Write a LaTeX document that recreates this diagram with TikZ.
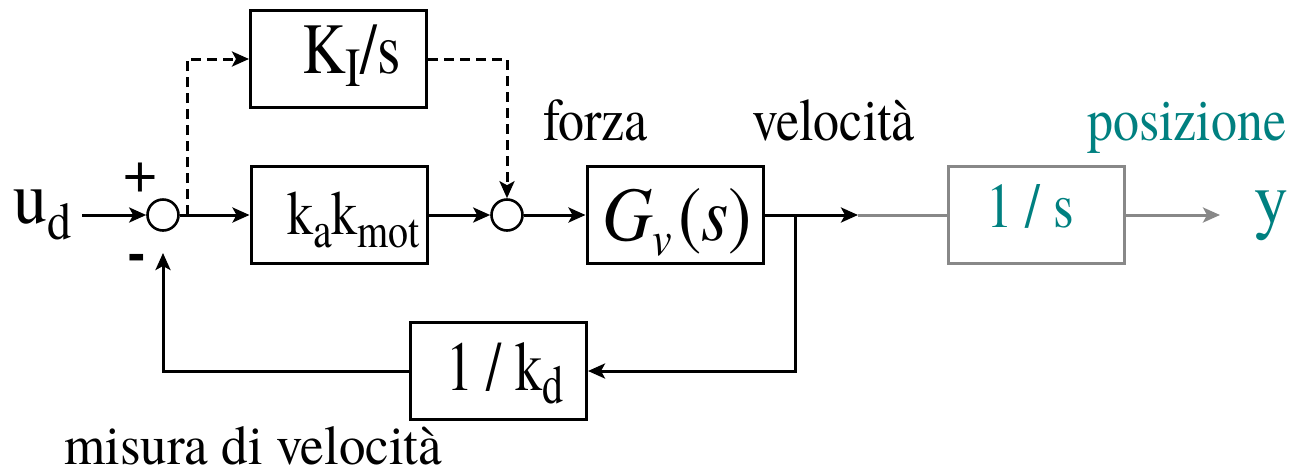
\documentclass[tikz,border=0pt]{standalone}
\usepackage{fontspec}
\usepackage{graphicx}
\setmainfont{texgyretermes}[Extension=.otf, UprightFont=*-regular, ItalicFont=*-italic, BoldFont=*-bold, BoldItalicFont=*-bolditalic]
\usetikzlibrary{arrows.meta}
\definecolor{tealc}{RGB}{0,128,128}
\definecolor{grayc}{RGB}{136,136,136}
\newcommand\fs[2]{{\fontsize{#1pt}{#1pt}\selectfont #2}}
\newcommand\lowsub[3]{\raisebox{-#2pt}{\fontsize{#1pt}{#1pt}\selectfont #3}}
\newcommand\ys[2]{\scalebox{1}[#1]{#2}}
\begin{document}
\begin{tikzpicture}[x=1pt,y=-1pt,
  blk/.style={draw, line width=3pt, minimum width=176pt, minimum height=97pt, inner sep=0pt},
  sumc/.style={draw, circle, line width=2.6pt, minimum size=31pt, inner sep=0pt},
  wire/.style={line width=3pt},
  tip/.style={-{Stealth[length=17pt,width=15pt,inset=4pt]}},
  arr/.style={wire, tip},
  dashw/.style={line width=3pt, dash pattern=on 10pt off 6pt, tip},
  txt/.style={inner sep=0pt, anchor=base west},
]
\useasboundingbox (0,0) rectangle (1293,475);
% blocks
\node[blk] (ki) at (338.5,59) {};
\node[blk] (kk) at (339,215) {};
\node[blk] (gv) at (675,215) {};
\node[blk, draw=grayc] (int) at (1036,215) {};
\node[blk] (fb) at (498.5,371) {};
\node[sumc] (s1) at (163,215) {};
\node[sumc] (s2) at (507,215) {};
% texts
\node[txt] (tki) at (302,73) {\ys{1.2}{\fs{60}{K}\lowsub{46}{11}{I}\fs{60}{/s}}};
\node[txt] (tkk) at (287,234) {\ys{1.2}{\fs{52}{k}\lowsub{42}{11}{a}\fs{52}{k}\lowsub{40}{11}{mot}}};
\node[txt] (tfb) at (446,390) {\ys{1.3}{\fs{54}{1 / k}\lowsub{42}{10}{d}}};
\node[txt] (tgv) at (602,240) {\ys{1.1}{\fs{70}{\itshape G}\lowsub{44}{14}{\itshape v}\hspace{6pt}\fs{70}{(\textit{s})}}};
\node[txt, text=tealc] (tint) at (986,227) {\ys{1.2}{\fs{53}{1 / s}}};
\node[txt, text=tealc] (ty) at (1254,224) {\ys{1.1}{\fs{68}{y}}};
\node[txt] (tud) at (13,223) {\ys{1.1}{\fs{68}{u}\lowsub{48}{15}{d}}};
\node[txt] (tforza) at (543,140) {\ys{1.15}{\fs{52}{forza}}};
\node[txt] (tvel) at (752,140) {\ys{1.15}{\fs{52}{velocità}}};
\node[txt, text=tealc] (tpos) at (1087,140) {\ys{1.15}{\fs{52}{posizione}}};
\node[txt] (tmis) at (64,464) {\ys{1.05}{\fs{53}{misura di velocità}}};
\node[inner sep=0pt, anchor=base] (plus) at (140,192) {\fs{60}{+}};
\node[inner sep=0pt, anchor=base] (minus) at (136.5,270) {\fs{56}{\bfseries -}};
% connectors
\coordinate (in) at (82,215);
\coordinate (tap) at (187,215);
\coordinate (br) at (795,215);
\coordinate (vt) at (858,215);
\coordinate (yt) at (1220,215);
\coordinate (fbt) at (163,253);
\draw[arr] (in) -- (s1.west);
\draw[arr] (s1.east) -- (kk.west);
\draw[arr] (kk.east) -- (s2.west);
\draw[arr] (s2.east) -- (gv.west);
\draw[arr] (gv.east) -- (vt);
\draw[wire, grayc] (vt) -- (int.west);
\draw[arr, grayc] (int.east) -- (yt);
\draw[arr] (br) |- (fb.east);
\draw[arr] (fb.west) -| (fbt);
\draw[dashw] (tap) |- (ki.west);
\draw[dashw] (ki.east) -| (s2.north);
\end{tikzpicture}
\end{document}
